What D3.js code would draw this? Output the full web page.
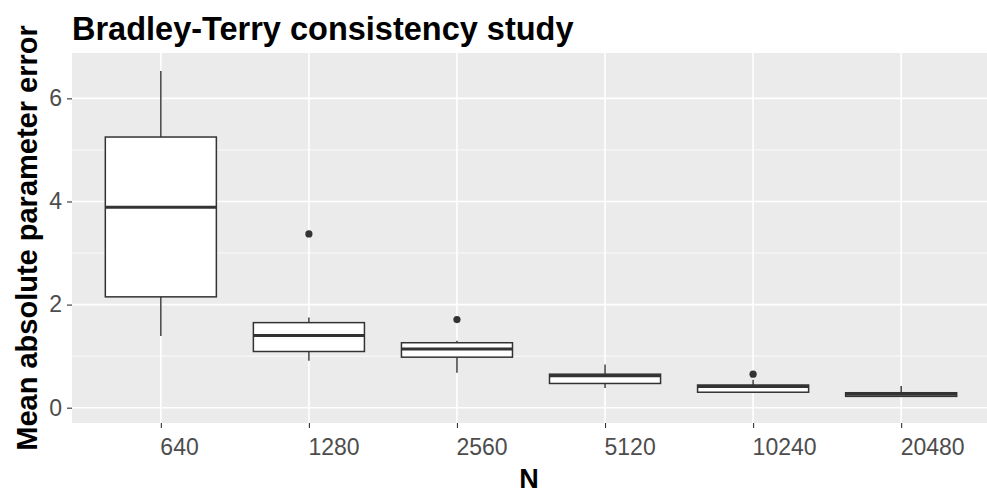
<!DOCTYPE html>
<html>
<head>
<meta charset="utf-8">
<script src="https://cdn.jsdelivr.net/npm/d3@7"></script>
<style>
  body { margin: 0; background: #fff; }
  text { font-family: "Liberation Sans", Arial, sans-serif; }
</style>
</head>
<body>
<div id="chart"></div>
<script>
// box summaries
var sizes = ["640", "1280", "2560", "5120", "10240", "20480"];
var whiskerLow = [1.39, 0.91, 0.68, 0.38, 0.29, 0.21];
var q1 = [2.15, 1.09, 0.98, 0.47, 0.30, 0.22];
var median = [3.89, 1.40, 1.14, 0.62, 0.41, 0.26];
var q3 = [5.25, 1.65, 1.26, 0.65, 0.44, 0.29];
var whiskerHigh = [6.53, 1.75, 1.30, 0.84, 0.54, 0.42];
var outliers = [[], [3.37], [1.71], [], [0.65], []];
var yTicks = [0, 2, 4, 6];

var W = 987, H = 496;
var margin = { top: 53, right: -3, bottom: 73, left: 72 },
    width = W - margin.left - margin.right,
    height = H - margin.top - margin.bottom;

var boxes = sizes.map(function(s, i) {
    return { n: s, lo: whiskerLow[i], q1: q1[i], med: median[i], q3: q3[i], hi: whiskerHigh[i], out: outliers[i] };
});

var x = d3.scalePoint()
    .domain(sizes)
    .range([0, width])
    .padding(0.6);

var y = d3.scaleLinear()
    .domain([-0.297, 6.88])
    .range([height, 0]);

var svg = d3.select("#chart").append("svg")
    .attr("width", W)
    .attr("height", H);

var g = svg.append("g")
    .attr("transform", "translate(" + margin.left + "," + margin.top + ")");

// panel
g.append("rect")
    .attr("width", width)
    .attr("height", height)
    .attr("fill", "#EBEBEB");

// minor grid
g.selectAll(".minor")
    .data([1, 3, 5])
    .enter().append("line")
    .attr("x1", 0).attr("x2", width)
    .attr("y1", function(d) { return y(d); })
    .attr("y2", function(d) { return y(d); })
    .attr("stroke", "#fff").attr("stroke-width", 0.8);

// major grid
g.selectAll(".hmajor")
    .data(yTicks)
    .enter().append("line")
    .attr("x1", 0).attr("x2", width)
    .attr("y1", function(d) { return y(d); })
    .attr("y2", function(d) { return y(d); })
    .attr("stroke", "#fff").attr("stroke-width", 1.6);

g.selectAll(".vmajor")
    .data(sizes)
    .enter().append("line")
    .attr("y1", 0).attr("y2", height)
    .attr("x1", function(d) { return x(d); })
    .attr("x2", function(d) { return x(d); })
    .attr("stroke", "#fff").attr("stroke-width", 1.6);

var bw = x.step() * 0.75;
var col = "#333333";

var bx = g.selectAll(".box")
    .data(boxes)
    .enter().append("g")
    .attr("class", "box");

// whiskers
bx.append("line")
    .attr("x1", function(d) { return x(d.n); })
    .attr("x2", function(d) { return x(d.n); })
    .attr("y1", function(d) { return y(d.hi); })
    .attr("y2", function(d) { return y(d.q3); })
    .attr("stroke", col).attr("stroke-width", 1.4);
bx.append("line")
    .attr("x1", function(d) { return x(d.n); })
    .attr("x2", function(d) { return x(d.n); })
    .attr("y1", function(d) { return y(d.q1); })
    .attr("y2", function(d) { return y(d.lo); })
    .attr("stroke", col).attr("stroke-width", 1.4);

bx.append("rect")
    .attr("x", function(d) { return x(d.n) - bw / 2; })
    .attr("width", bw)
    .attr("y", function(d) { return y(d.q3); })
    .attr("height", function(d) { return y(d.q1) - y(d.q3); })
    .attr("fill", "#fff")
    .attr("stroke", col).attr("stroke-width", 1.5);

bx.append("line")
    .attr("x1", function(d) { return x(d.n) - bw / 2; })
    .attr("x2", function(d) { return x(d.n) + bw / 2; })
    .attr("y1", function(d) { return y(d.med); })
    .attr("y2", function(d) { return y(d.med); })
    .attr("stroke", col).attr("stroke-width", 3);

bx.selectAll("circle")
    .data(function(d) { return d.out.map(function(v) { return { n: d.n, v: v }; }); })
    .enter().append("circle")
    .attr("cx", function(d) { return x(d.n); })
    .attr("cy", function(d) { return y(d.v); })
    .attr("r", 3.6)
    .attr("fill", col);

// axes
var xAxis = g.append("g")
    .attr("transform", "translate(0," + height + ")")
    .call(d3.axisBottom(x).tickSize(5).tickPadding(11));
xAxis.select(".domain").remove();
xAxis.selectAll("line").attr("stroke", col).attr("stroke-width", 1.1);
xAxis.selectAll("text")
    .attr("text-anchor", "start")
    .attr("x", -1)
    .attr("fill", "#4D4D4D")
    .style("font-size", "23px");

var yAxis = g.append("g")
    .call(d3.axisLeft(y).tickValues(yTicks).tickSize(5).tickPadding(5));
yAxis.select(".domain").remove();
yAxis.selectAll("line").attr("stroke", col).attr("stroke-width", 1.1);
yAxis.selectAll("text")
    .attr("fill", "#4D4D4D")
    .style("font-size", "23px");

// titles
svg.append("text")
    .attr("x", 72)
    .attr("y", 40)
    .attr("font-weight", "bold")
    .style("font-size", "32.5px")
    .text("Bradley-Terry consistency study");

svg.append("text")
    .attr("x", margin.left + (W - 3 - margin.left) / 2 + 1)
    .attr("y", 488)
    .attr("text-anchor", "middle")
    .attr("font-weight", "bold")
    .style("font-size", "27px")
    .text("N");

svg.append("text")
    .attr("transform", "translate(37," + (margin.top + height / 2) + ") rotate(-90)")
    .attr("text-anchor", "middle")
    .attr("font-weight", "bold")
    .style("font-size", "29px")
    .text("Mean absolute parameter error");
</script>
</body>
</html>
